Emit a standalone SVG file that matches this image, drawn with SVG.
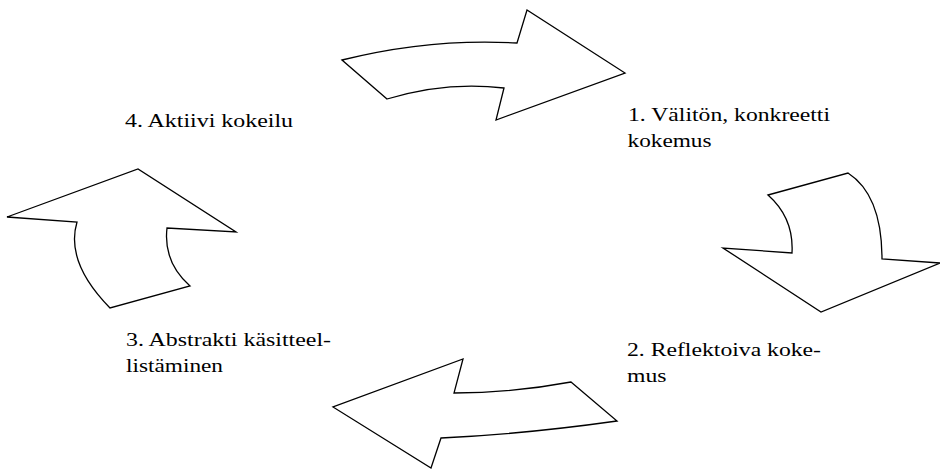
<svg xmlns="http://www.w3.org/2000/svg" width="940" height="470" viewBox="0 0 940 470">
  <style>
    .arrow { fill: #ffffff; stroke: #000000; stroke-width: 1.3; stroke-linejoin: miter; }
    .label { font-family: "Liberation Serif", "Times New Roman", "DejaVu Serif", serif; font-size: 18.7px; fill: #000000; }
  </style>
  <rect width="940" height="470" fill="#ffffff"/>

  <!-- curved block arrows forming the learning cycle -->
  <g id="connectors">
    <path id="arrow-top" class="arrow" d="M342,60 Q430,38 517,43 L527,10 L625,73 L496,120 L504,88 Q446,81 387,99 Z"/>
    <path id="arrow-right" class="arrow" d="M768,195 L848,173 Q882,195 882,259 L940,263 L821,312 L723,248 L792,253 Q794,218 768,195 Z"/>
    <path id="arrow-bottom" class="arrow" d="M571,382 L617,421 Q525,434 441,438 L431,468 L333,407 L463,359 L454,393 Q512,393 571,382 Z"/>
    <path id="arrow-left" class="arrow" d="M7,217 L138,169 L236,232 L167,228 Q163,262 190,286 L110,308 Q65,262 77,222 Z"/>
  </g>

  <!-- stage labels -->
  <g id="stage-1">
    <text class="label" x="628" y="120.7" textLength="202" lengthAdjust="spacingAndGlyphs">1. Välitön, konkreetti</text>
    <text class="label" x="627.5" y="146.7" textLength="84" lengthAdjust="spacingAndGlyphs">kokemus</text>
  </g>
  <g id="stage-2">
    <text class="label" x="627" y="355.7" textLength="194" lengthAdjust="spacingAndGlyphs">2. Reflektoiva koke-</text>
    <text class="label" x="627" y="381.7" textLength="39.5" lengthAdjust="spacingAndGlyphs">mus</text>
  </g>
  <g id="stage-3">
    <text class="label" x="126" y="345.7" textLength="205" lengthAdjust="spacingAndGlyphs">3. Abstrakti käsitteel-</text>
    <text class="label" x="126" y="371.7" textLength="97" lengthAdjust="spacingAndGlyphs">listäminen</text>
  </g>
  <g id="stage-4">
    <text class="label" x="125" y="126.7" textLength="168" lengthAdjust="spacingAndGlyphs">4. Aktiivi kokeilu</text>
  </g>
</svg>
